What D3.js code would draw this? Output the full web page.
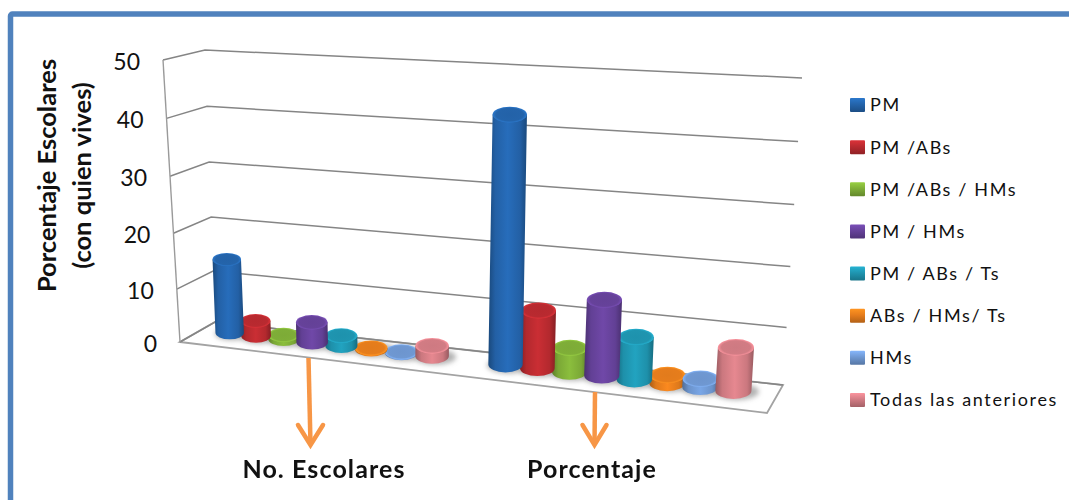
<!DOCTYPE html>
<html>
<head>
<meta charset="utf-8">
<script src="https://cdn.jsdelivr.net/npm/d3@7"></script>
<style>
  html, body { margin: 0; padding: 0; background: #fff; overflow: hidden; }
  text { font-family: Lato, "Open Sans", sans-serif; fill: #111; }
</style>
</head>
<body>
<svg id="chart" width="1069" height="500"></svg>
<script>
// Chart data
const groups = ["No. Escolares", "Porcentaje"];
const seriesNames = ["PM", "PM /ABs", "PM /ABs / HMs", "PM / HMs", "PM / ABs / Ts", "ABs / HMs/ Ts", "HMs", "Todas las anteriores"];
const noEscolares = [13.9, 3, 0.85, 3.9, 2, 0.25, 0.15, 2];
const porcentaje = [42.5, 10.3, 4.4, 13.2, 7.5, 1.5, 1.5, 7.5];
const yTicks = [0, 10, 20, 30, 40, 50];
const seriesColors = ["#2464ab", "#b92a30", "#7fae38", "#66429a", "#1f95b0", "#e67d1c", "#6f98d2", "#d27c84"];

const svg = d3.select("#chart");
const defs = svg.append("defs");

// Corners of the 3D plot box: floor and ceiling at front/back, left/right
const box = {
  fl: { base: [180, 342], top: [163, 60] },
  bl: { base: [215, 322], top: [205, 50] },
  br: { base: [783, 385], top: [802, 78] },
  fr: { base: [767, 413], top: [791, 88] }
};
const lerp = (a, b, t) => [a[0] + (b[0] - a[0]) * t, a[1] + (b[1] - a[1]) * t];

const yScale = d3.scalePow().exponent(1.04).domain([0, 50]).range([0, 1]);
const depthU = d3.scalePow().exponent(1.1).domain([0, 1]).range([0, 1]);

// Maps (position along the floor, depth, value) to the page
function project(u, depth, value) {
  const uu = depthU(u);
  const level = key => lerp(lerp(box.fl[key], box.fr[key], uu), lerp(box.bl[key], box.br[key], uu), depth);
  return lerp(level("base"), level("top"), yScale(value));
}

const xGroup = d3.scaleBand().domain(groups).range([0, 0.995]).paddingInner(0.144).paddingOuter(0.0757);
const xSeries = d3.scaleBand().domain(d3.range(seriesNames.length)).range([0, xGroup.bandwidth()]);

const blur = defs.append("filter").attr("id", "soft").attr("x", "-50%").attr("y", "-50%").attr("width", "200%").attr("height", "200%");
blur.append("feGaussianBlur").attr("stdDeviation", 2.5);

// Horizontal shading for the cylinders, plus a bevelled legend key
seriesColors.forEach((c, i) => {
  const base = d3.color(c);
  const g = defs.append("linearGradient").attr("id", "cyl" + i);
  [[0, base.darker(0.9)], [0.18, base.darker(0.1)], [0.5, base.brighter(0.25)], [0.82, base.darker(0.1)], [1, base.darker(0.9)]]
    .forEach(([o, col]) => g.append("stop").attr("offset", o).attr("stop-color", col));
  const t = defs.append("radialGradient").attr("id", "cap" + i);
  t.append("stop").attr("offset", 0).attr("stop-color", base.darker(0.05));
  t.append("stop").attr("offset", 0.8).attr("stop-color", base);
  t.append("stop").attr("offset", 1).attr("stop-color", base.brighter(0.5));
  const k = defs.append("linearGradient").attr("id", "key" + i).attr("x1", 0).attr("x2", 0).attr("y1", 0).attr("y2", 1);
  k.append("stop").attr("offset", 0).attr("stop-color", base.brighter(0.5));
  k.append("stop").attr("offset", 0.45).attr("stop-color", base);
  k.append("stop").attr("offset", 1).attr("stop-color", base.darker(0.7));
});

// Frame around the slide
svg.append("rect")
  .attr("x", 10.5).attr("y", 14).attr("width", 1200).attr("height", 600).attr("rx", 2)
  .attr("fill", "none").attr("stroke", "#5082bd").attr("stroke-width", 5.5);

const gridColor = "#858585";
const line = d3.line();

// Floor of the plot
svg.append("path")
  .attr("d", line([box.fl.base, box.fr.base, box.br.base, box.bl.base]) + "Z")
  .attr("fill", "#fff").attr("stroke", "#a3a3a3").attr("stroke-width", 1.8);

// Gridlines run along the side wall, then along the back wall
svg.append("g").selectAll("path").data(yTicks).join("path")
  .attr("d", v => line([project(0, 0, v), project(0, 1, v), project(1, 1, v)]))
  .attr("fill", "none").attr("stroke", gridColor).attr("stroke-width", 1.5);

// Value axis edge
svg.append("path")
  .attr("d", line([project(0, 0, 0), project(0, 0, 50)]))
  .attr("fill", "none").attr("stroke", "#9a9a9a").attr("stroke-width", 1.4);

svg.append("g").selectAll("text").data(yTicks).join("text")
  .attr("x", v => project(0, 0, v)[0] - 23)
  .attr("y", v => project(0, 0, v)[1] + 1.5)
  .attr("dy", "0.35em").attr("text-anchor", "end")
  .attr("font-size", 23).text(d => d);

// Cylinders: taller ones sit in front of their neighbours
const depthMid = 0.62;
const rows = groups.flatMap((g, gi) => {
  const vals = gi === 0 ? noEscolares : porcentaje;
  return vals.map((value, s) => ({ group: g, s, value }));
});
const center = d => xGroup(d.group) + xSeries(d.s) + xSeries.bandwidth() / 2;
const ordered = d3.groups(rows, d => d.group).flatMap(([, r]) => d3.sort(r, d => d.value));

const shadows = svg.append("g").attr("filter", "url(#soft)");
const bars = svg.append("g");
ordered.forEach(d => {
  const u = center(d);
  const base = project(u, depthMid, 0);
  const top = project(u, depthMid, d.value);
  const next = project(u + xSeries.bandwidth(), depthMid, 0);
  const rx = Math.abs(next[0] - base[0]) * 0.54;
  const ry = rx * 0.46;
  shadows.append("ellipse")
    .attr("cx", base[0] + 3).attr("cy", base[1] + 1).attr("rx", rx * 1.25).attr("ry", ry * 1.0)
    .attr("fill", "#9a9a9a").attr("opacity", 0.75);
  const g = bars.append("g");
  g.append("path")
    .attr("d", `M${top[0] - rx},${top[1]} L${base[0] - rx},${base[1]} A${rx},${ry} 0 0 0 ${base[0] + rx},${base[1]} L${top[0] + rx},${top[1]} Z`)
    .attr("fill", `url(#cyl${d.s})`);
  g.append("ellipse")
    .attr("cx", top[0]).attr("cy", top[1]).attr("rx", rx).attr("ry", ry)
    .attr("fill", `url(#cap${d.s})`);
});

// Legend
const legendY = d3.scalePoint().domain(seriesNames).range([105, 400]);
const legend = svg.append("g").selectAll("g").data(seriesNames).join("g")
  .attr("transform", d => `translate(850,${legendY(d)})`);
legend.append("rect")
  .attr("x", 0).attr("y", -7).attr("width", 15).attr("height", 14).attr("rx", 1)
  .attr("fill", (d, i) => `url(#key${i})`);
legend.append("text")
  .attr("x", 20).attr("dy", "0.36em")
  .attr("font-size", 18).attr("letter-spacing", 1.65)
  .text(d => d);

// Axis title
const title = svg.append("g");
[["Porcentaje Escolares", 56], ["(con quien vives)", 91]].forEach(([t, x]) => {
  title.append("text")
    .attr("transform", `translate(${x},175.5) rotate(-90)`)
    .attr("text-anchor", "middle").attr("font-weight", 700).attr("font-size", 25.5)
    .text(t);
});

// Arrows leading from each group down to its label
const arrowPaths = [
  { from: [308.5, 358], to: [310.5, 445], wing: 12.5 },
  { from: [595, 392], to: [594.5, 445], wing: 12 }
];
const arrowLabels = [
  { text: groups[0], x: 324 },
  { text: groups[1], x: 592 }
];
arrowPaths.forEach(a => {
  const color = "#f79646";
  svg.append("path").attr("d", line([a.from, a.to]))
    .attr("stroke", color).attr("stroke-width", 4.5).attr("fill", "none");
  svg.append("path")
    .attr("d", line([[a.to[0] - a.wing, a.to[1] - 20], a.to, [a.to[0] + a.wing, a.to[1] - 20]]))
    .attr("stroke", color).attr("stroke-width", 4.5).attr("fill", "none").attr("stroke-linecap", "round");
});
svg.append("g").selectAll("text").data(arrowLabels).join("text")
  .attr("x", d => d.x).attr("y", 478)
  .attr("text-anchor", "middle").attr("font-size", 25).attr("font-weight", 700).attr("letter-spacing", 1.1)
  .text(d => d.text);
</script>
</body>
</html>
